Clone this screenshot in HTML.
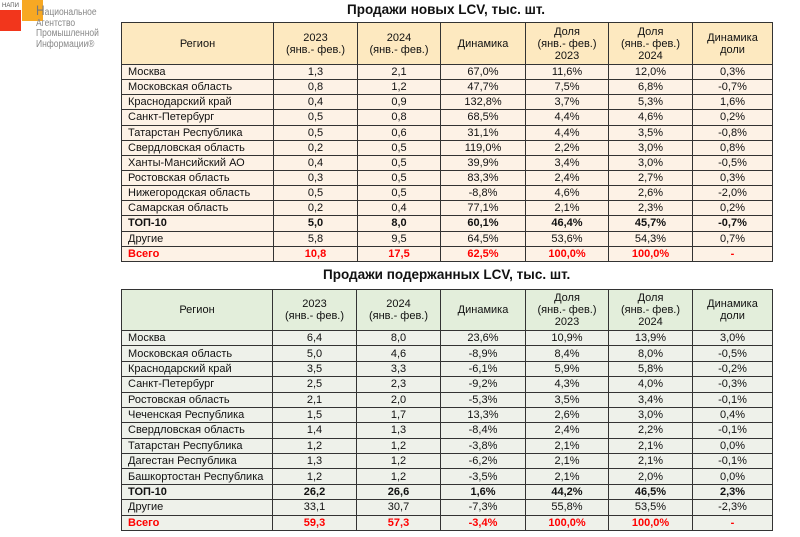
<!DOCTYPE html>
<html><head><meta charset="utf-8"><style>
body{margin:0;width:800px;height:537px;background:#fff;position:relative;font-family:"Liberation Sans",sans-serif;overflow:hidden}
.t{position:absolute;left:121px;border-collapse:collapse;table-layout:fixed;font-size:11px;color:#111}
.t td{border:1px solid #333;padding:0 6px;text-align:center;line-height:12px;white-space:nowrap;overflow:hidden}
.t td:first-child{text-align:left}
.t tr.h td{text-align:center}
.y tr.h td{background:#fde9c0}
.y td{background:#fdf2e6}
.g tr.h td{background:#e3eedb}
.g td{background:#eef1ea}
.b td{font-weight:bold}
.r td{font-weight:bold;color:#f00}
.title{position:absolute;font-weight:bold;font-size:13.5px;color:#111;white-space:nowrap}
</style></head><body>
<div style="position:absolute;left:22px;top:0;width:21px;height:21px;background:#f7a823"></div>
<div style="position:absolute;left:0;top:10px;width:21px;height:21px;background:#f2361c"></div>
<div style="position:absolute;left:2px;top:3px;font-size:6px;color:#555">НАПИ</div>
<div style="position:absolute;left:36px;top:5px;font-size:10px;line-height:10.5px;color:#888;transform:scaleX(0.85);transform-origin:left"><span style="font-size:14px;color:#777">Н</span>ациональное<br>Агентство<br>Промышленной<br>Информации®</div>

<div class="title" style="left:347px;top:2px">Продажи новых LCV, тыс. шт.</div>
<table class="t y" style="top:22px;width:651px;height:240px">
<colgroup><col style="width:152px"><col style="width:84px"><col style="width:83px"><col style="width:85px"><col style="width:83px"><col style="width:84px"><col style="width:80px"></colgroup>
<tr class="h" style="height:42px"><td style="text-align:center">Регион</td><td>2023<br>(янв.- фев.)</td><td>2024<br>(янв.- фев.)</td><td>Динамика</td><td>Доля<br>(янв.- фев.)<br>2023</td><td>Доля<br>(янв.- фев.)<br>2024</td><td>Динамика<br>доли</td></tr>
<tr><td>Москва</td><td>1,3</td><td>2,1</td><td>67,0%</td><td>11,6%</td><td>12,0%</td><td>0,3%</td></tr>
<tr><td>Московская область</td><td>0,8</td><td>1,2</td><td>47,7%</td><td>7,5%</td><td>6,8%</td><td>-0,7%</td></tr>
<tr><td>Краснодарский край</td><td>0,4</td><td>0,9</td><td>132,8%</td><td>3,7%</td><td>5,3%</td><td>1,6%</td></tr>
<tr><td>Санкт-Петербург</td><td>0,5</td><td>0,8</td><td>68,5%</td><td>4,4%</td><td>4,6%</td><td>0,2%</td></tr>
<tr><td>Татарстан Республика</td><td>0,5</td><td>0,6</td><td>31,1%</td><td>4,4%</td><td>3,5%</td><td>-0,8%</td></tr>
<tr><td>Свердловская область</td><td>0,2</td><td>0,5</td><td>119,0%</td><td>2,2%</td><td>3,0%</td><td>0,8%</td></tr>
<tr><td>Ханты-Мансийский АО</td><td>0,4</td><td>0,5</td><td>39,9%</td><td>3,4%</td><td>3,0%</td><td>-0,5%</td></tr>
<tr><td>Ростовская область</td><td>0,3</td><td>0,5</td><td>83,3%</td><td>2,4%</td><td>2,7%</td><td>0,3%</td></tr>
<tr><td>Нижегородская область</td><td>0,5</td><td>0,5</td><td>-8,8%</td><td>4,6%</td><td>2,6%</td><td>-2,0%</td></tr>
<tr><td>Самарская область</td><td>0,2</td><td>0,4</td><td>77,1%</td><td>2,1%</td><td>2,3%</td><td>0,2%</td></tr>
<tr class="b"><td>ТОП-10</td><td>5,0</td><td>8,0</td><td>60,1%</td><td>46,4%</td><td>45,7%</td><td>-0,7%</td></tr>
<tr><td>Другие</td><td>5,8</td><td>9,5</td><td>64,5%</td><td>53,6%</td><td>54,3%</td><td>0,7%</td></tr>
<tr class="r"><td>Всего</td><td>10,8</td><td>17,5</td><td>62,5%</td><td>100,0%</td><td>100,0%</td><td>-</td></tr>
</table>

<div class="title" style="left:323px;top:267px">Продажи подержанных LCV, тыс. шт.</div>
<table class="t g" style="top:289px;width:651px;height:242px">
<colgroup><col style="width:151px"><col style="width:84px"><col style="width:84px"><col style="width:85px"><col style="width:83px"><col style="width:84px"><col style="width:80px"></colgroup>
<tr class="h" style="height:41px"><td style="text-align:center">Регион</td><td>2023<br>(янв.- фев.)</td><td>2024<br>(янв.- фев.)</td><td>Динамика</td><td>Доля<br>(янв.- фев.)<br>2023</td><td>Доля<br>(янв.- фев.)<br>2024</td><td>Динамика<br>доли</td></tr>
<tr><td>Москва</td><td>6,4</td><td>8,0</td><td>23,6%</td><td>10,9%</td><td>13,9%</td><td>3,0%</td></tr>
<tr><td>Московская область</td><td>5,0</td><td>4,6</td><td>-8,9%</td><td>8,4%</td><td>8,0%</td><td>-0,5%</td></tr>
<tr><td>Краснодарский край</td><td>3,5</td><td>3,3</td><td>-6,1%</td><td>5,9%</td><td>5,8%</td><td>-0,2%</td></tr>
<tr><td>Санкт-Петербург</td><td>2,5</td><td>2,3</td><td>-9,2%</td><td>4,3%</td><td>4,0%</td><td>-0,3%</td></tr>
<tr><td>Ростовская область</td><td>2,1</td><td>2,0</td><td>-5,3%</td><td>3,5%</td><td>3,4%</td><td>-0,1%</td></tr>
<tr><td>Чеченская Республика</td><td>1,5</td><td>1,7</td><td>13,3%</td><td>2,6%</td><td>3,0%</td><td>0,4%</td></tr>
<tr><td>Свердловская область</td><td>1,4</td><td>1,3</td><td>-8,4%</td><td>2,4%</td><td>2,2%</td><td>-0,1%</td></tr>
<tr><td>Татарстан Республика</td><td>1,2</td><td>1,2</td><td>-3,8%</td><td>2,1%</td><td>2,1%</td><td>0,0%</td></tr>
<tr><td>Дагестан Республика</td><td>1,3</td><td>1,2</td><td>-6,2%</td><td>2,1%</td><td>2,1%</td><td>-0,1%</td></tr>
<tr><td>Башкортостан Республика</td><td>1,2</td><td>1,2</td><td>-3,5%</td><td>2,1%</td><td>2,0%</td><td>0,0%</td></tr>
<tr class="b"><td>ТОП-10</td><td>26,2</td><td>26,6</td><td>1,6%</td><td>44,2%</td><td>46,5%</td><td>2,3%</td></tr>
<tr><td>Другие</td><td>33,1</td><td>30,7</td><td>-7,3%</td><td>55,8%</td><td>53,5%</td><td>-2,3%</td></tr>
<tr class="r"><td>Всего</td><td>59,3</td><td>57,3</td><td>-3,4%</td><td>100,0%</td><td>100,0%</td><td>-</td></tr>
</table>
</body></html>
